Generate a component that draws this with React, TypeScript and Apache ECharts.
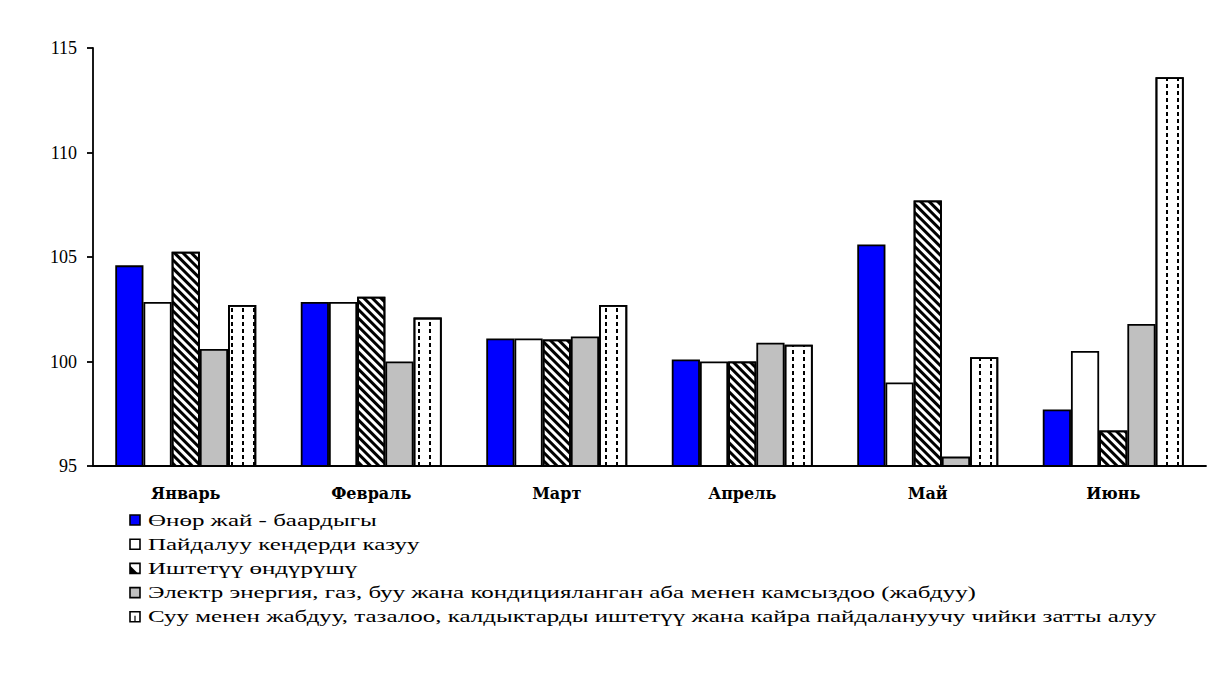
import React, { useEffect, useRef } from "react";
import * as echarts from "echarts";

const categories = ["Январь", "Февраль", "Март", "Апрель", "Май", "Июнь"];
const seriesNames = [
  "Өнөр жай - баардыгы",
  "Пайдалуу кендерди казуу",
  "Иштетүү өндүрүшү",
  "Электр энергия, газ, буу жана кондицияланган аба менен камсыздоо (жабдуу)",
  "Суу менен жабдуу, тазалоо, калдыктарды иштетүү жана кайра пайдалануучу чийки затты алуу",
];
const industryTotal = [104.6, 102.85, 101.1, 100.1, 105.6, 97.7];
const mining = [102.85, 102.85, 101.1, 100.0, 99.0, 100.5];
const manufacturing = [105.25, 103.1, 101.05, 100.0, 107.7, 96.7];
const electricity = [100.6, 100.0, 101.2, 100.9, 95.45, 101.8];
const water = [102.7, 102.1, 102.7, 100.8, 100.2, 113.6];
const yTicks = [95, 100, 105, 110, 115];

const SERIF = "Liberation Serif";

function legendGraphics() {
  const els: any[] = [];
  const fills = ["#0000ff", "#ffffff", "#ffffff", "#c0c0c0", "#ffffff"];
  seriesNames.forEach((name, i) => {
    const cy = 520 + i * 24.2;
    const x0 = 130;
    const y0 = cy - 5;
    const children: any[] = [
      {
        type: "rect",
        shape: { x: x0, y: y0, width: 10, height: 10 },
        style: { fill: fills[i], stroke: "#000", lineWidth: 1.6 },
      },
    ];
    if (i === 2) {
      children.push({
        type: "polygon",
        shape: { points: [[x0, y0 + 2], [x0, y0 + 10], [x0 + 8, y0 + 10]] },
        style: { fill: "#000" },
      });
    }
    if (i === 4) {
      children.push({
        type: "line",
        shape: { x1: x0 + 5, y1: y0 + 4, x2: x0 + 5, y2: y0 + 10 },
        style: { stroke: "#000", lineWidth: 1.2 },
      });
    }
    children.push({
      type: "text",
      x: 148,
      y: cy,
      scaleX: 1.47,
      style: {
        text: name,
        fontFamily: SERIF,
        fontSize: 17,
        fill: "#000",
        textVerticalAlign: "middle",
        textAlign: "left",
      },
    });
    els.push({ type: "group", children });
  });
  return els;
}

export default function App() {
  const ref = useRef<HTMLDivElement>(null);
  useEffect(() => {
    document.body.style.margin = "0";
    const chart = echarts.init(ref.current!, null, { renderer: "svg" });
    const border = { borderColor: "#000", borderWidth: 1.8 };
    chart.setOption({
      animation: false,
      backgroundColor: "#fff",
      grid: { left: 93, right: 16, top: 48, bottom: 211 },
      graphic: legendGraphics(),
      xAxis: {
        type: "category",
        data: categories,
        axisLine: { lineStyle: { color: "#000", width: 1.8 } },
        axisTick: { inside: true, length: 6, lineStyle: { color: "#000", width: 1.8 } },
        axisLabel: {
          fontFamily: "DejaVu Serif",
          fontSize: 16,
          fontWeight: "bold",
          color: "#000",
          margin: 19,
        },
      },
      yAxis: {
        type: "value",
        min: yTicks[0],
        max: yTicks[yTicks.length - 1],
        interval: 5,
        splitLine: { show: false },
        axisLine: { show: true, lineStyle: { color: "#000", width: 1.8 } },
        axisTick: { show: true, length: 6, lineStyle: { color: "#000", width: 1.8 } },
        axisLabel: { fontFamily: SERIF, fontSize: 18, color: "#000", margin: 16 },
      },
      series: [
        {
          name: seriesNames[0],
          type: "bar",
          data: industryTotal,
          barGap: "0%",
          barCategoryGap: "24%",
          itemStyle: { color: "#0000ff", ...border },
        },
        {
          name: seriesNames[1],
          type: "bar",
          data: mining,
          itemStyle: { color: "#ffffff", ...border },
        },
        {
          name: seriesNames[2],
          type: "bar",
          data: manufacturing,
          itemStyle: {
            color: "#ffffff",
            ...border,
            decal: {
              symbol: "rect",
              color: "#000",
              dashArrayX: [1, 0],
              dashArrayY: [3, 3],
              rotation: Math.PI / 4,
              symbolSize: 1,
            },
          },
        },
        {
          name: seriesNames[3],
          type: "bar",
          data: electricity,
          itemStyle: { color: "#c0c0c0", ...border },
        },
        {
          name: seriesNames[4],
          type: "bar",
          data: water,
          itemStyle: {
            color: "#ffffff",
            ...border,
            decal: {
              symbol: "rect",
              color: "#000",
              dashArrayX: [1.5, 8.5],
              dashArrayY: [4, 3],
              symbolSize: 1,
            },
          },
        },
      ],
    });
    return () => chart.dispose();
  }, []);
  return <div ref={ref} style={{ width: 1222, height: 677 }} />;
}
